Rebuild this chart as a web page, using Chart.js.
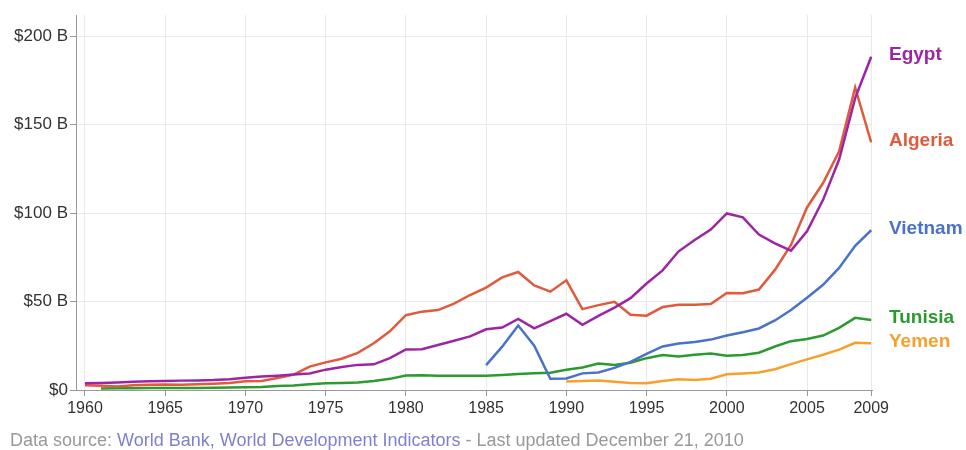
<!DOCTYPE html>
<html>
<head>
<meta charset="utf-8">
<title>GDP - Egypt, Algeria, Vietnam, Tunisia, Yemen</title>
<script src="https://cdn.jsdelivr.net/npm/chart.js@4.4.1/dist/chart.umd.min.js"></script>
<style>
    html, body { margin: 0; padding: 0; background: #fff; }
    canvas { display: block; }
</style>
</head>
<body>
<canvas id="gdpChart" width="966" height="450"></canvas>
<script>
// GDP in current US$ (billions)
const years = [];
for (let y = 1960; y <= 2009; y++) years.push(y);

const egypt = [
    3.8, 4.0, 4.3, 4.6, 5.0, 5.1, 5.3, 5.4, 5.6, 6.1,
    6.9, 7.6, 8.1, 8.7, 9.3, 11.5, 13.0, 14.2, 14.5, 18.0,
    22.9, 23.1, 25.4, 27.8, 30.3, 34.3, 35.3, 40.2, 34.8, 39.0,
    43.1, 36.9, 41.9, 46.6, 51.9, 60.2, 67.6, 78.4, 84.8, 90.7,
    99.8, 97.6, 87.9, 82.9, 78.8, 89.7, 107.5, 130.3, 165.0, 188.4
];
const algeria = [
    2.7, 2.4, 2.0, 2.7, 2.9, 3.1, 3.0, 3.2, 3.6, 4.0,
    4.9, 5.1, 6.8, 8.7, 13.2, 15.6, 17.7, 21.0, 26.4, 33.2,
    42.3, 44.3, 45.2, 48.8, 53.7, 57.9, 63.7, 66.7, 59.1, 55.6,
    62.0, 45.7, 48.0, 49.9, 42.5, 42.0, 46.9, 48.2, 48.2, 48.6,
    54.8, 54.7, 56.8, 67.9, 82.0, 103.2, 117.0, 135.0, 171.0, 140.0
];
const vietnam = [
    null, null, null, null, null, null, null, null, null, null,
    null, null, null, null, null, null, null, null, null, null,
    null, null, null, null, null, 14.1, 24.5, 36.5, 25.0, 6.3,
    6.5, 9.4, 9.9, 12.5, 15.9, 20.4, 24.6, 26.3, 27.1, 28.5,
    30.8, 32.6, 34.8, 39.3, 45.2, 52.2, 59.5, 69.0, 81.5, 90.3
];
const tunisia = [
    null, 0.9, 1.0, 1.0, 1.1, 1.1, 1.2, 1.2, 1.3, 1.4,
    1.5, 1.7, 2.2, 2.5, 3.2, 3.8, 4.0, 4.3, 5.1, 6.3,
    8.2, 8.4, 8.1, 8.1, 8.1, 8.1, 8.5, 9.1, 9.5, 9.7,
    11.4, 12.7, 15.0, 14.2, 15.4, 18.0, 19.8, 19.0, 19.9, 20.6,
    19.4, 19.8, 21.1, 24.6, 27.6, 28.8, 30.8, 35.1, 40.8, 39.6
];
const yemen = [
    null, null, null, null, null, null, null, null, null, null,
    null, null, null, null, null, null, null, null, null, null,
    null, null, null, null, null, null, null, null, null, null,
    4.8, 5.1, 5.3, 4.6, 3.9, 3.8, 5.1, 6.1, 5.6, 6.4,
    8.9, 9.3, 9.9, 11.7, 14.6, 17.3, 19.9, 22.8, 26.7, 26.4
];

const countries = ['Egypt', 'Algeria', 'Vietnam', 'Tunisia', 'Yemen'];
const colors = ['#9d25a3', '#e05a3b', '#4a72c9', '#2b9a2f', '#f7a02c'];
const xTicks = [1960, 1965, 1970, 1975, 1980, 1985, 1990, 1995, 2000, 2005, 2009];
const yTicks = [0, 50, 100, 150, 200];

const FONT = "'Liberation Sans', Arial, sans-serif";

function toPoints(values) {
    return years.map((yr, i) => ({ x: yr, y: values[i] }));
}

const seriesValues = [egypt, algeria, vietnam, tunisia, yemen];

// country names drawn at the right end of each line
const endLabels = {
    id: 'endLabels',
    afterDatasetsDraw(chart) {
        const ctx = chart.ctx;
        const yScale = chart.scales.y;
        ctx.save();
        ctx.font = 'bold 19px ' + FONT;
        ctx.textAlign = 'left';
        ctx.textBaseline = 'middle';
        chart.data.datasets.forEach((ds, i) => {
            const vals = seriesValues[i];
            const last = vals[vals.length - 1];
            ctx.fillStyle = ds.borderColor;
            ctx.fillText(ds.label, chart.chartArea.right + 17, yScale.getPixelForValue(last) - 2);
        });
        ctx.restore();
    }
};

// data source line under the chart
const footer = {
    id: 'footer',
    afterDraw(chart) {
        const ctx = chart.ctx;
        const parts = [
            ['Data source: ', '#999999'],
            ['World Bank, World Development Indicators', '#8080d0'],
            [' - Last updated December 21, 2010', '#999999']
        ];
        ctx.save();
        ctx.font = '18px ' + FONT;
        ctx.textBaseline = 'middle';
        let x = 10;
        parts.forEach(([text, color]) => {
            ctx.fillStyle = color;
            ctx.fillText(text, x, 441);
            x += ctx.measureText(text).width;
        });
        ctx.restore();
    }
};

new Chart(document.getElementById('gdpChart'), {
    type: 'line',
    data: {
        datasets: countries.map((name, i) => ({
            label: name,
            data: toPoints(seriesValues[i]),
            borderColor: colors[i],
            backgroundColor: colors[i],
            borderWidth: 2.5,
            pointRadius: 0,
            tension: 0,
            spanGaps: false
        }))
    },
    options: {
        responsive: false,
        animation: false,
        layout: { padding: { top: 15, right: 94, left: 0, bottom: 0 } },
        plugins: {
            legend: { display: false },
            tooltip: { enabled: false }
        },
        scales: {
            x: {
                type: 'linear',
                min: 1959.44,
                max: 2009.05,
                afterFit(scale) { scale.height = 60; },
                afterBuildTicks(scale) { scale.ticks = xTicks.map(v => ({ value: v })); },
                ticks: {
                    color: '#333',
                    font: { family: FONT, size: 16 },
                    padding: 3,
                    maxRotation: 0,
                    autoSkip: false,
                    callback: v => String(v)
                },
                grid: { color: '#e9e9e9', tickColor: '#999', tickLength: 6 },
                border: { color: '#999', width: 1 }
            },
            y: {
                min: 0,
                max: 212,
                afterFit(scale) { scale.width = 76; },
                afterBuildTicks(scale) { scale.ticks = yTicks.map(v => ({ value: v })); },
                ticks: {
                    color: '#333',
                    font: { family: FONT, size: 17 },
                    padding: 2,
                    callback: v => (v === 0 ? '$0' : '$' + v + ' B')
                },
                grid: { color: '#e9e9e9', tickColor: '#999', tickLength: 6 },
                border: { color: '#999', width: 1 }
            }
        }
    },
    plugins: [endLabels, footer]
});
</script>
</body>
</html>
